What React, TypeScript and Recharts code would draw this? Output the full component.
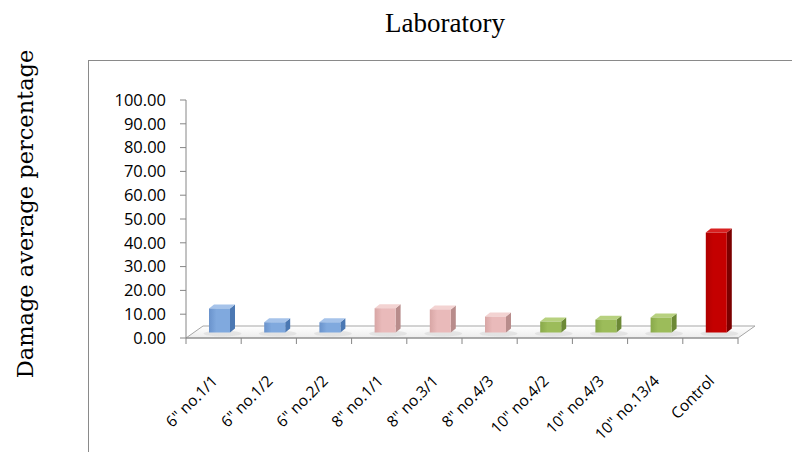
import React from 'react';
import { BarChart, Bar, XAxis, YAxis, ReferenceArea } from 'recharts';

const categories = ['6" no.1/1', '6" no.1/2', '6" no.2/2', '8" no.1/1', '8" no.3/1', '8" no.4/3', '10" no.4/2', '10" no.4/3', '10" no.13/4', 'Control'];
const damage = [10.1, 4.3, 4.3, 10.2, 9.7, 6.7, 4.6, 5.4, 6.3, 42.0];
const groups = ['6in', '6in', '6in', '8in', '8in', '8in', '10in', '10in', '10in', 'control'];
const yTicks = [0, 10, 20, 30, 40, 50, 60, 70, 80, 90, 100];

const data = categories.map((name, i) => ({ name, value: damage[i], group: groups[i] }));

const palette: Record<string, { front: string; edge: string; side: string; top: string }> = {
  '6in': { front: '#80a9de', edge: '#6a93cc', side: '#4b78b3', top: '#a6c3ea' },
  '8in': { front: '#e9baba', edge: '#d8a6a5', side: '#b88c8b', top: '#f3d3d2' },
  '10in': { front: '#9cbc5a', edge: '#89a94a', side: '#6c8936', top: '#b7d17f' },
  control: { front: '#c40000', edge: '#b00000', side: '#7c0000', top: '#d82020' },
};

const DX = 6;
const DY = -5.5;
const SD = 5;
const SH = 4;

const Bar3D = (props: any) => {
  const { x, y, width, height, payload } = props;
  const c = palette[payload.group];
  const fx = x + DX;
  const top = y + DY;
  const bottom = y + height + DY;
  const id = 'g' + payload.group;
  return (
    <g>
      <defs>
        <linearGradient id={id} x1="0" y1="0" x2="1" y2="0">
          <stop offset="0" stopColor={c.edge} />
          <stop offset="0.35" stopColor={c.front} />
          <stop offset="1" stopColor={c.front} />
        </linearGradient>
      </defs>
      <ellipse cx={fx + width / 2 + 3} cy={bottom + 1} rx={width * 0.9} ry={3} fill="#d9d9d9" opacity={0.6} />
      <polygon
        points={`${fx + width},${top} ${fx + width + SD},${top - SH} ${fx + width + SD},${bottom - SH} ${fx + width},${bottom}`}
        fill={c.side}
      />
      <polygon
        points={`${fx},${top} ${fx + SD},${top - SH} ${fx + width + SD},${top - SH} ${fx + width},${top}`}
        fill={c.top}
      />
      <rect x={fx} y={top} width={width} height={Math.max(0, bottom - top)} fill={`url(#${id})`} />
    </g>
  );
};

const Floor = (props: any) => {
  const { x, y, width, height } = props;
  const base = y + height;
  const ox = 17;
  const oy = -12;
  const n = categories.length;
  const step = width / n;
  const ticks = Array.from({ length: n + 1 }, (_, i) => x + i * step);
  return (
    <g>
      <defs>
        <linearGradient id="floorGrad" x1="0" y1="0" x2="0" y2="1">
          <stop offset="0" stopColor="#ffffff" />
          <stop offset="1" stopColor="#ececec" />
        </linearGradient>
      </defs>
      <polygon
        points={`${x},${base} ${x + ox},${base + oy} ${x + width + ox},${base + oy} ${x + width},${base}`}
        fill="url(#floorGrad)"
        stroke="#a6a6a6"
        strokeWidth={1}
      />
      <line x1={x} y1={base} x2={x + width} y2={base} stroke="#868686" strokeWidth={1} />
      {ticks.map((tx, i) => (
        <line key={i} x1={tx} y1={base} x2={tx} y2={base + 6} stroke="#868686" strokeWidth={1} />
      ))}
    </g>
  );
};

const CatTick = (props: any) => {
  const { x, y, payload } = props;
  return (
    <g transform={`translate(${x + 5},${y + 44})`}>
      <text
        textAnchor="end"
        transform="rotate(-45)"
        fontSize={15.5}
        fontFamily="'Open Sans', sans-serif"
        fill="#000"
      >
        {payload.value}
      </text>
    </g>
  );
};

export default function App() {
  return (
    <div style={{ position: 'absolute', left: 0, top: 0, width: 792, height: 452, background: '#fff', overflow: 'hidden' }}>
      <div
        style={{
          position: 'absolute',
          left: 88,
          top: 60,
          width: 720,
          height: 420,
          borderLeft: '1.5px solid #8a8a8a',
          borderTop: '1.5px solid #8a8a8a',
        }}
      />
      <svg width={792} height={452} style={{ position: 'absolute', left: 0, top: 0 }}>
        <text x={445} y={32} textAnchor="middle" fontSize={27} fontFamily="'Liberation Serif', 'Times New Roman', serif" fill="#000">
          Laboratory
        </text>
        <text
          x={33}
          y={214}
          textAnchor="middle"
          transform="rotate(-90, 33, 214)"
          fontSize={22.5}
          fontFamily="'DejaVu Serif', serif"
          fill="#000"
        >
          Damage average percentage
        </text>
      </svg>
      <div style={{ position: 'absolute', left: 0, top: 0 }}>
        <BarChart width={792} height={452} data={data} margin={{ top: 100, right: 54, bottom: 84, left: 126 }}>
          <XAxis
            xAxisId="cat"
            dataKey="name"
            type="category"
            interval={0}
            height={30}
            tickSize={0}
            tickMargin={0}
            axisLine={false}
            tickLine={false}
            tick={<CatTick />}
          />
          <YAxis
            domain={[0, 100]}
            ticks={yTicks}
            interval={0}
            width={60}
            tickSize={6}
            tickMargin={14}
            tickFormatter={(v: number) => v.toFixed(2)}
            axisLine={{ stroke: '#868686' }}
            tickLine={{ stroke: '#868686' }}
            tick={{ fontSize: 16.5, fontFamily: "'Open Sans', sans-serif", fill: '#000' }}
          />
          <ReferenceArea xAxisId="cat" y1={0} y2={1} ifOverflow="visible" shape={<Floor />} />
          <Bar xAxisId="cat" dataKey="value" barSize={21} shape={<Bar3D />} isAnimationActive={false} />
        </BarChart>
      </div>
    </div>
  );
}
